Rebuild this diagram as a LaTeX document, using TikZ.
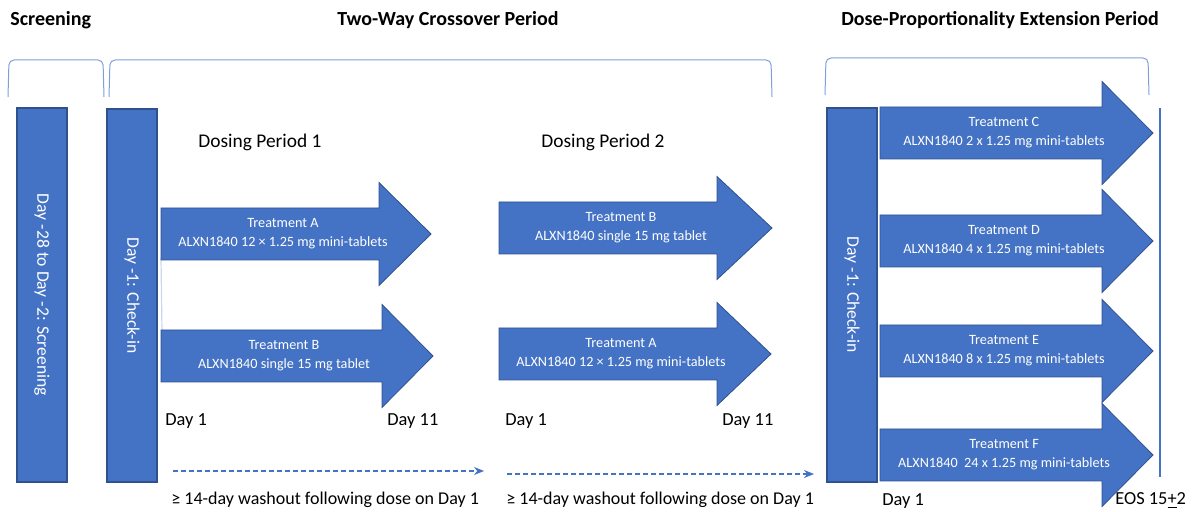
\documentclass[tikz,border=0pt]{standalone}
\usepackage{fontspec}
\setmainfont{Carlito}
\usetikzlibrary{arrows.meta}
\definecolor{blu}{HTML}{4472C4}
\definecolor{blud}{HTML}{2F528F}
\definecolor{brk}{HTML}{7F9FD6}
\definecolor{faint}{HTML}{C9D7EF}
\newcommand{\bigarr}[4]{% left, neck, tip, center
  \draw[bigarrow] (#1,#4-26) -- (#2,#4-26) -- (#2,#4-51.5) -- (#3,#4) -- (#2,#4+51.5) -- (#2,#4+26) -- (#1,#4+26) -- cycle;}
\begin{document}
\begin{tikzpicture}[x=0.5pt,y=-0.5pt,
  bar/.style={draw=blud, fill=blu, line width=0.8pt, text=white, rotate=-90,
    minimum height=25pt, inner sep=0pt, font=\fontsize{8.8}{10}\selectfont},
  bigarrow/.style={draw=blud, fill=blu, line width=0.4pt},
  tlabel/.style={text=white, font=\fontsize{7.1}{9.5}\selectfont, align=center, inner sep=0pt},
  header/.style={font=\fontsize{10}{12}\selectfont\bfseries, inner sep=0pt},
  plabel/.style={font=\fontsize{9.7}{12}\selectfont, inner sep=0pt},
  daylabel/.style={font=\fontsize{9.2}{11}\selectfont, inner sep=0pt, anchor=west},
  wlabel/.style={font=\fontsize{9}{11}\selectfont, inner sep=0pt, anchor=west},
  bracket/.style={draw=brk, line width=0.5pt, rounded corners=2.5pt},
  washout/.style={draw=blu, dash pattern=on 2.5pt off 1.5pt, line width=0.7pt,
    -{Stealth[length=5pt,width=4pt]}},
  eosline/.style={draw=blu, line width=0.8pt}]
\useasboundingbox (0,0) rectangle (1193,512);

% headers
\node[header, anchor=west] (hscr) at (10,20) {Screening};
\node[header] (hcross) at (448,20) {Two-Way Crossover Period};
\node[header] (hext) at (1000,20) {Dose-Proportionality Extension Period};

% brackets
\draw[bracket] (8,97) -- (9,60) -- (103,60) -- (104,97);
\draw[bracket] (109,97) -- (110,60) -- (771,60) -- (772,97);
\draw[bracket] (825,95) -- (826,58) -- (1148,58) -- (1149,95);

% bars
\node[bar, minimum width=187pt] (scr) at (42,295) {Day -28 to Day -2: Screening};
\node[bar, minimum width=186.5pt] (chk1) at (132,295.5) {Day -1: Check-in};
\node[bar, minimum width=187pt] (chk2) at (852,295) {Day -1: Check-in};

% period labels
\node[plabel] (dp1) at (260,142) {Dosing Period 1};
\node[plabel] (dp2) at (603,142) {Dosing Period 2};

% faint line between period 1 arrows
\coordinate (fT) at (161,258);
\coordinate (fB) at (162,332);
\draw[faint, line width=0.6pt] (fT) -- (fB);

% period 1 arrows
\bigarr{161}{379}{431}{234}
\node[tlabel] (p1a) at (283,234) {Treatment A\\ALXN1840 12 × 1.25 mg mini-tablets};
\bigarr{161}{382}{433}{356}
\node[tlabel] (p1b) at (284,356) {Treatment B\\ALXN1840 single 15 mg tablet};

% period 2 arrows
\bigarr{499}{717}{772}{228}
\node[tlabel] (p2b) at (621,228) {Treatment B\\ALXN1840 single 15 mg tablet};
\bigarr{499}{717}{771}{354}
\node[tlabel] (p2a) at (621,354) {Treatment A\\ALXN1840 12 × 1.25 mg mini-tablets};

% extension arrows
\bigarr{880}{1102}{1153}{133}
\node[tlabel] (tc) at (1004,133) {Treatment C\\ALXN1840 2 x 1.25 mg mini-tablets};
\bigarr{880}{1102}{1153}{241}
\node[tlabel] (td) at (1004,241) {Treatment D\\ALXN1840 4 x 1.25 mg mini-tablets};
\bigarr{880}{1102}{1153}{351}
\node[tlabel] (te) at (1004,351) {Treatment E\\ALXN1840 8 x 1.25 mg mini-tablets};
\bigarr{880}{1102}{1153}{455}
\node[tlabel] (tf) at (1004,455) {Treatment F\\ALXN1840 \ 24 x 1.25 mg mini-tablets};

% EOS line
\coordinate (eosT) at (1160,108);
\coordinate (eosB) at (1160,477);
\draw[eosline] (eosT) -- (eosB);

% day labels
\node[daylabel] (d1a) at (165,421) {Day 1};
\node[daylabel] (d11a) at (387,421) {Day 11};
\node[daylabel] (d1b) at (505,421) {Day 1};
\node[daylabel] (d11b) at (722,421) {Day 11};
\node[daylabel] (d1c) at (882,501) {Day 1};
\node[daylabel] (eos) at (1115,501) {EOS 15\underline{+}2};

% washout arrows
\coordinate (w1s) at (173,471);
\coordinate (w1e) at (484,471);
\draw[washout] (w1s) -- (w1e);
\coordinate (w2s) at (507,474);
\coordinate (w2e) at (814,474);
\draw[washout] (w2s) -- (w2e);
\node[wlabel] (wl1) at (171,500) {≥ 14-day washout following dose on Day 1};
\node[wlabel] (wl2) at (506,500) {≥ 14-day washout following dose on Day 1};
\end{tikzpicture}
\end{document}
